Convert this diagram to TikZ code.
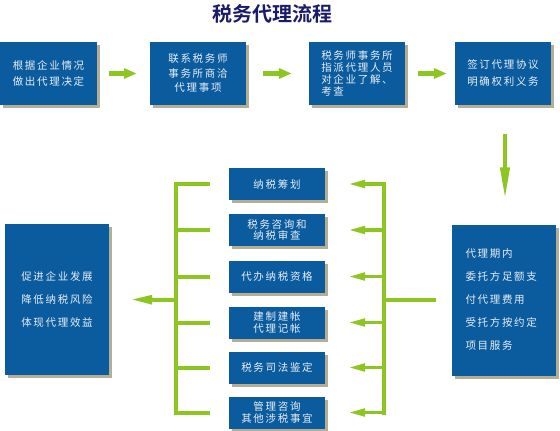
\documentclass[tikz,border=0pt]{standalone}
\usepackage{fontspec}
\usetikzlibrary{arrows.meta,shadows}
\newfontfamily\cjk[LetterSpace=16]{Noto Sans CJK SC}
\newfontfamily\cjktitle{Noto Sans CJK SC Bold}
\definecolor{boxblue}{HTML}{0B5C9E}
\definecolor{shadowc}{HTML}{B3AE94}
\definecolor{gr}{HTML}{8DC521}
\definecolor{navy}{HTML}{1B1B6B}
\definecolor{txt}{HTML}{E8EEF6}
\tikzset{
  bluebox/.style={rectangle, fill=boxblue, text=txt, inner sep=0pt, align=center,
    general shadow={fill=shadowc, shadow xshift=3pt, shadow yshift=-3pt}},
  topbox/.style={bluebox, minimum width=96pt, minimum height=63pt},
  midbox/.style={bluebox, minimum width=96pt, minimum height=32pt,
    font=\cjk\fontsize{10.5}{11.5}\selectfont},
  bigbox/.style={bluebox, minimum width=104pt, minimum height=151pt,
    font=\cjk\fontsize{10.5}{23}\selectfont},
  toparrow/.style={draw=gr, line width=5pt, -{Triangle[length=13pt,width=10pt]}},
  downarrow/.style={draw=gr, line width=4pt, -{Triangle[length=32pt,width=9pt]}},
  brarrow/.style={draw=gr, line width=3.5pt, -{Triangle[length=17pt,width=7.5pt]}},
  trunkarrow/.style={draw=gr, line width=4pt, -{Triangle[length=22pt,width=8.5pt]}},
  gline/.style={draw=gr, line width=4pt},
  spine/.style={draw=gr, line width=4pt, line cap=rect},
}
\begin{document}
\begin{tikzpicture}[x=1pt,y=-1pt]
\useasboundingbox (0,0) rectangle (560,431);
\node[text=navy, font=\cjktitle\fontsize{20}{22}\selectfont] (title) at (272,14) {税务代理流程};

\node[topbox, minimum width=97pt, font=\cjk\fontsize{10.5}{16}\selectfont] (t1) at (48.5,73.5) {根据企业情况\\做出代理决定};
\node[topbox, font=\cjk\fontsize{10.5}{14.5}\selectfont] (t2) at (198,73.5) {联系税务师\\事务所商洽\\代理事项};
\node[topbox, align=left, font=\cjk\fontsize{10.5}{12.3}\selectfont] (t3) at (357,73.5) {税务师事务所\\指派代理人员\\对企业了解、\\考查};
\node[topbox, font=\cjk\fontsize{10.5}{17}\selectfont] (t4) at (503,73.5) {签订代理协议\\明确权利义务};

\node[bigbox, align=left, text width=76pt, inner xsep=14pt] (R) at (503.5,300) {代理期内\\委托方足额支\\付代理费用\\受托方按约定\\项目服务};
\node[bigbox] (L) at (57,299.5) {促进企业发展\\降低纳税风险\\体现代理效益};

\node[midbox] (m1) at (277,184) {纳税筹划};
\node[midbox] (m2) at (277,230) {税务咨询和\\纳税审查};
\node[midbox] (m3) at (277,276.5) {代办纳税资格};
\node[midbox] (m4) at (277,322.5) {建制建帐\\代理记帐};
\node[midbox] (m5) at (277,367.5) {税务司法鉴定};
\node[midbox] (m6) at (277,412.5) {管理咨询\\其他涉税事宜};

% top arrows
\draw[toparrow] ([xshift=12pt]t1.east) -- ([xshift=-13pt]t2.west);
\draw[toparrow] ([xshift=17pt]t2.east) -- ([xshift=-17pt]t3.west);
\draw[toparrow] ([xshift=13pt]t3.east) -- ([xshift=-8pt]t4.west);
\draw[downarrow] ([xshift=2pt,yshift=-29pt]t4.south) -- ([xshift=1.5pt,yshift=25pt]R.north);

% right bracket
\coordinate (jr) at (384,300);
\coordinate (jl) at (176,300);
\draw[gline] ([xshift=-15pt]R.west) -- (jr);
\draw[spine] (m1 -| jr) -- (m6 -| jr);
\foreach \m in {m1,m2,m3,m4,m5,m6}{
  \draw[brarrow] (\m -| jr) -- ([xshift=23pt]\m.east);
}
% left bracket
\draw[spine] (m1 -| jl) -- (m6 -| jl);
\foreach \m in {m1,m2,m3,m4,m5,m6}{
  \draw[gline] (\m -| jl) -- ([xshift=-19pt]\m.west);
}
\draw[trunkarrow] (jl) -- ([xshift=21pt]L.east);
\end{tikzpicture}
\end{document}
